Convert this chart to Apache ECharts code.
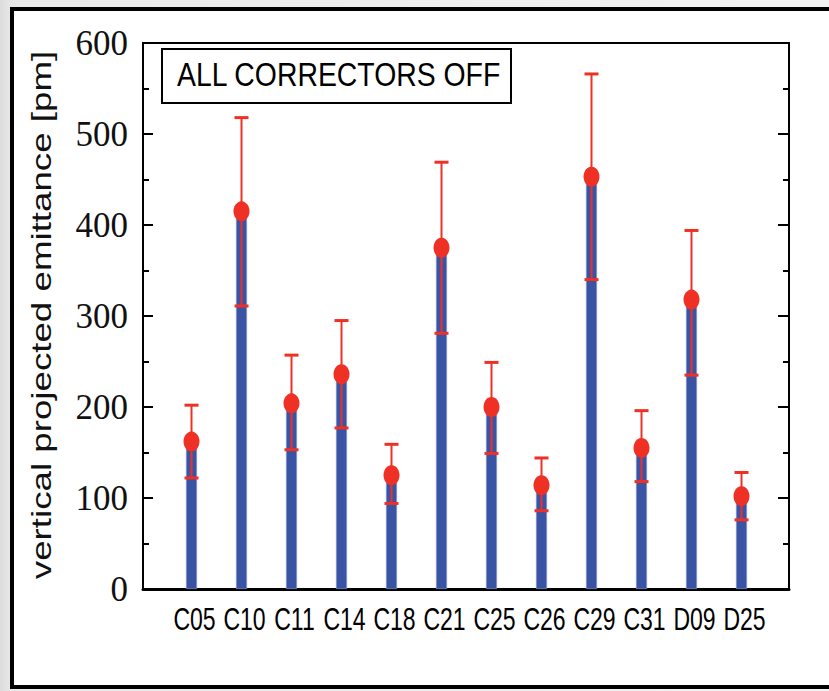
<!DOCTYPE html>
<html>
<head>
<meta charset="utf-8">
<script src="https://cdn.jsdelivr.net/npm/echarts@6/dist/echarts.min.js"></script>
<style>
  html, body { margin: 0; padding: 0; }
  body { width: 829px; height: 691px; background: linear-gradient(90deg, #dcdcdc 0px, #e9e9e9 12px, #f2f2f2 100%); overflow: hidden; }
  #chart { width: 829px; height: 691px; }
</style>
</head>
<body>
<div id="chart"></div>
<script>
// Corrector settings along the ring
const categories = ['C05', 'C10', 'C11', 'C14', 'C18', 'C21', 'C25', 'C26', 'C29', 'C31', 'D09', 'D25'];
// Measured vertical projected emittance [pm]
const emittance = [162, 415, 204, 236, 125, 375, 200, 114, 453, 155, 318, 102];
// Lower / upper ends of the error bars [pm]
const errLow  = [122, 311, 153, 177, 94, 281, 149, 86, 340, 118, 235, 76];
const errHigh = [202, 518, 257, 295, 159, 469, 249, 144, 566, 196, 394, 128];
// Y axis range and tick step
const yMin = 0, yMax = 600, yStep = 100;

const RED = '#ee3124';
const BLUE = '#3953a5';

const chart = echarts.init(document.getElementById('chart'), null, { renderer: 'svg' });

const errData = categories.map((c, i) => [i, errLow[i], errHigh[i]]);
const labelData = categories.map((c, i) => [i, yMin]);

const option = {
  backgroundColor: 'transparent',
  animation: false,
  grid: [
    // frame with the axes
    { left: 143, top: 43, width: 646, height: 546, show: true, borderColor: '#000', borderWidth: 2, backgroundColor: '#fff' },
    // data band (12 stations, 50 px apart)
    { left: 166.5, top: 43, width: 600, height: 546 }
  ],
  xAxis: [
    {
      gridIndex: 0, type: 'value', min: 0, max: 1,
      axisLine: { show: true, onZero: false, lineStyle: { color: '#000', width: 3 } },
      axisTick: { show: false }, axisLabel: { show: false }, splitLine: { show: false }
    },
    {
      gridIndex: 1, type: 'category', data: categories, boundaryGap: true,
      axisLine: { show: false }, axisTick: { show: false }, splitLine: { show: false },
      axisLabel: { show: false }
    }
  ],
  yAxis: [
    {
      gridIndex: 0, type: 'value', min: yMin, max: yMax, interval: yStep, position: 'left',
      axisLine: { show: true, lineStyle: { color: '#000', width: 2 } },
      axisTick: { show: true, inside: true, length: 10, lineStyle: { color: '#000', width: 2 } },
      minorTick: { show: true, splitNumber: 2, length: 6, lineStyle: { color: '#000', width: 2 } },
      splitLine: { show: false },
      axisLabel: { margin: 15, color: '#111', fontFamily: '"Liberation Serif", "Times New Roman", serif', fontSize: 35 }
    },
    {
      gridIndex: 0, type: 'value', min: yMin, max: yMax, interval: yStep, position: 'right',
      axisLine: { show: true, lineStyle: { color: '#000', width: 2 } },
      axisTick: { show: true, inside: true, length: 11, lineStyle: { color: '#000', width: 2 } },
      minorTick: { show: true, splitNumber: 2, length: 6, lineStyle: { color: '#000', width: 2 } },
      splitLine: { show: false }, axisLabel: { show: false }
    },
    {
      gridIndex: 1, type: 'value', min: yMin, max: yMax, show: false
    }
  ],
  graphic: [
    // outer white panel with black border
    { type: 'rect', z: -10, shape: { x: 12, y: 9, width: 840, height: 678 },
      style: { fill: '#fff', stroke: '#000', lineWidth: 4 } },
    // y axis title
    { type: 'text', z: 10, x: 42, y: 315, rotation: Math.PI / 2, scaleX: 1.36,
      style: { text: 'vertical projected emittance [pm]', fill: '#111',
               font: '27px "Liberation Sans", Arial, sans-serif', align: 'center', verticalAlign: 'middle' } },
    // annotation box
    { type: 'rect', z: 10, shape: { x: 162, y: 49, width: 349, height: 54 },
      style: { fill: '#fff', stroke: '#000', lineWidth: 2 } },
    { type: 'text', z: 11, x: 177, y: 75, scaleX: 0.835,
      style: { text: 'ALL CORRECTORS OFF', fill: '#000',
               font: '34px "Liberation Sans", Arial, sans-serif', verticalAlign: 'middle' } }
  ],
  series: [
    {
      type: 'bar', xAxisIndex: 1, yAxisIndex: 2, data: emittance, barWidth: 11, z: 2,
      itemStyle: { color: BLUE, borderColor: '#8f9bd0', borderWidth: 0.6 }
    },
    {
      type: 'custom', xAxisIndex: 1, yAxisIndex: 2, data: errData, z: 3,
      encode: { x: 0, y: [1, 2] },
      renderItem: function (params, api) {
        const i = api.value(0);
        const lo = api.coord([i, api.value(1)]);
        const hi = api.coord([i, api.value(2)]);
        const half = 7;
        const style = { stroke: RED, lineWidth: 2 };
        return {
          type: 'group',
          children: [
            { type: 'line', shape: { x1: lo[0], y1: lo[1], x2: hi[0], y2: hi[1] }, style: style },
            { type: 'line', shape: { x1: hi[0] - half, y1: hi[1], x2: hi[0] + half, y2: hi[1] }, style: { stroke: RED, lineWidth: 3 } },
            { type: 'line', shape: { x1: lo[0] - half, y1: lo[1], x2: lo[0] + half, y2: lo[1] }, style: { stroke: RED, lineWidth: 3 } }
          ]
        };
      }
    },
    {
      type: 'scatter', xAxisIndex: 1, yAxisIndex: 2, data: emittance, z: 4,
      symbol: 'circle', symbolSize: [16, 20],
      itemStyle: { color: RED, opacity: 1 }
    },
    {
      // station names under the axis, set in a condensed face
      type: 'custom', xAxisIndex: 1, yAxisIndex: 2, data: labelData, z: 5, silent: true,
      encode: { x: 0, y: 1 },
      renderItem: function (params, api) {
        const i = api.value(0);
        const p = api.coord([i, api.value(1)]);
        return {
          type: 'text', x: p[0] + 3, y: p[1] + 30, scaleX: 0.72,
          style: { text: categories[i], fill: '#000', font: '32px "Liberation Sans", Arial, sans-serif',
                   align: 'center', verticalAlign: 'middle' }
        };
      }
    }
  ]
};

chart.setOption(option);
</script>
</body>
</html>
